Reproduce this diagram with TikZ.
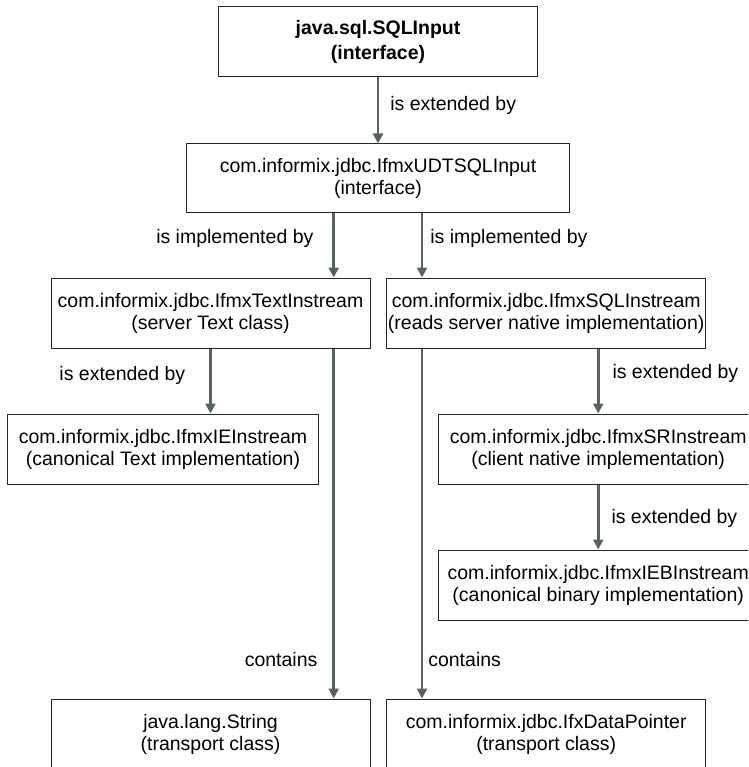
\documentclass[tikz,border=0pt]{standalone}
\usepackage{fontspec}
\setmainfont{Liberation Sans}
\usetikzlibrary{positioning,arrows.meta}
\definecolor{linkgray}{RGB}{88,98,98}

\begin{document}
\begin{tikzpicture}[
  x=1pt, y=-1pt,
  font=\fontsize{19.5}{22}\selectfont,
  cls/.style={draw=black!85, line width=1pt, align=center, inner sep=0pt,
              minimum width=319pt, minimum height=70pt, fill=white},
  lbl/.style={inner sep=0pt, text=black},
  arr/.style={-{Triangle[length=10pt, width=10pt]}, line width=2.6pt, linkgray},
  node distance=65pt]

\clip (0,0) rectangle (748,767);

% interfaces
\node[cls, font=\fontsize{19.5}{25}\selectfont\bfseries] (sqlin) at (378,42)
  {java.sql.SQLInput\\(interface)};
\node[cls, minimum width=383pt, minimum height=69pt, below=66pt of sqlin] (udt)
  {com.informix.jdbc.IfmxUDTSQLInput\\(interface)};

% implementing classes
\node[cls] (txt) at (210.5,313) {com.informix.jdbc.IfmxTextInstream\\(server Text class)};
\node[cls, right=15.7pt of txt] (sqlins)
  {com.informix.jdbc.IfmxSQLInstream\\(reads server native implementation)};

% subclasses
\node[cls, minimum width=311pt, below=of txt, xshift=-47.5pt] (ie)
  {com.informix.jdbc.IfmxIEInstream\\(canonical Text implementation)};
\node[cls, below=of sqlins, xshift=52pt] (sr)
  {com.informix.jdbc.IfmxSRInstream\\(client native implementation)};
\node[cls, below=of sr] (ieb)
  {com.informix.jdbc.IfmxIEBInstream\\(canonical binary implementation)};

% transport classes
\node[cls, below=350pt of txt] (str) {java.lang.String\\(transport class)};
\node[cls, below=350pt of sqlins] (dp) {com.informix.jdbc.IfxDataPointer\\(transport class)};

\coordinate (lx) at (333.7,0);
\coordinate (rx) at (422,0);

% edges
\draw[arr] (sqlin) -- node[lbl, right=11pt, pos=0.42] {is extended by} (udt);
\draw[arr] (udt.south -| lx) -- node[lbl, left=19pt, pos=0.39] {is implemented by} (txt.north -| lx);
\draw[arr] (udt.south -| rx) -- node[lbl, right=7pt, pos=0.39] {is implemented by} (sqlins.north -| rx);
\draw[arr] (txt.south) -- node[lbl, left=24pt, pos=0.415] {is extended by} (txt.south |- ie.north);
\draw[arr] (sqlins.south -| sr.north) -- node[lbl, right=13pt, pos=0.385] {is extended by} (sr.north);
\draw[arr] (sr) -- node[lbl, right=12pt, pos=0.52] {is extended by} (ieb);
\draw[arr] (txt.south -| lx) -- node[lbl, left=15pt, pos=0.889] {contains} (str.north -| lx);
\draw[arr] (sqlins.south -| rx) -- node[lbl, right=5pt, pos=0.889] {contains} (dp.north -| rx);
\end{tikzpicture}
\end{document}
